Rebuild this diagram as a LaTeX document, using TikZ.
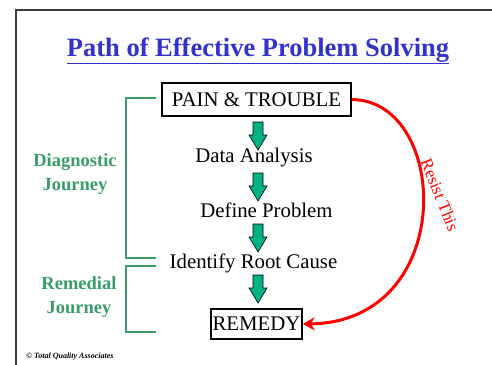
\documentclass[tikz,border=0pt]{standalone}
\usepackage{fontspec}
\setmainfont{Liberation Serif}
\usetikzlibrary{arrows.meta}
\definecolor{titleblue}{RGB}{51,51,204}
\definecolor{jgreen}{RGB}{58,156,106}
\definecolor{agreen}{RGB}{0,178,132}
\definecolor{framegray}{RGB}{60,60,60}
\tikzset{
  stepbox/.style={draw=black, line width=1.4pt, inner sep=0pt, font=\fontsize{20.8}{24}\selectfont},
  steptext/.style={inner sep=0pt, font=\fontsize{20.8}{24}\selectfont},
  garrowpic/.pic={\draw[black, line width=0.6pt, fill=agreen, line join=miter]
    (-5,0) -- (5,0) -- (5,13) -- (9,13) -- (0,28) -- (-9,13) -- (-5,13) -- cycle;},
  jlabel/.style={text=jgreen, align=center, inner sep=0pt, font=\fontsize{18.5}{24}\selectfont\bfseries},
  bracket/.style={draw=jgreen, line width=1.8pt},
  resist/.style={draw=red, line width=3pt, -{Stealth[length=12pt,width=13pt]}},
}
\begin{document}
\begin{tikzpicture}[x=1pt,y=-1pt]
\useasboundingbox (0,0) rectangle (492,364);
\clip (0,0) rectangle (492,364);
\fill[white] (0,0) rectangle (492,364);
\draw[framegray, line width=1.5pt] (16,370) -- (16,10) -- (500,10);
\node[anchor=base, text=titleblue, inner sep=0pt, font=\fontsize{26.5}{30}\selectfont\bfseries] (title) at (258,56) {\underline{Path of Effective Problem Solving}};
\node[stepbox, minimum width=189pt, minimum height=33pt] (pain) at (256.5,99.5) {PAIN \& TROUBLE};
\node[steptext] (data) at (254,158) {Data Analysis};
\node[steptext] (define) at (266.5,210.5) {Define Problem};
\node[steptext] (root) at (253.5,263) {Identify Root Cause};
\node[stepbox, minimum width=91pt, minimum height=30pt] (remedy) at (256.5,324) {REMEDY};
\pic (a1) at (258,122) {garrowpic};
\pic (a2) at (258,173) {garrowpic};
\pic (a3) at (258,224) {garrowpic};
\pic (a4) at (258,275) {garrowpic};
\node[jlabel] (diag) at (75,174) {Diagnostic\\Journey};
\node[jlabel] (remed) at (79,297.5) {Remedial\\Journey};
\coordinate (b1a) at (156,98);
\coordinate (b1b) at (156,258);
\coordinate (b2a) at (156,266);
\coordinate (b2b) at (156,332);
\draw[bracket] (b1a) -- (126,98) -- (126,258) -- (b1b);
\draw[bracket] (b2a) -- (126,266) -- (126,332) -- (b2b);
\draw[resist] (pain.east) .. controls (450,100) and (458,322) .. (remedy.east);
\node[text=red, rotate=-68, inner sep=0pt, font=\fontsize{17}{20}\selectfont] (rt) at (440,195) {Resist This};
\node[anchor=west, inner sep=0pt, font=\fontsize{8}{9}\selectfont\bfseries\itshape] (copy) at (26,357) {\textcopyright{} Total Quality Associates};
\end{tikzpicture}
\end{document}
